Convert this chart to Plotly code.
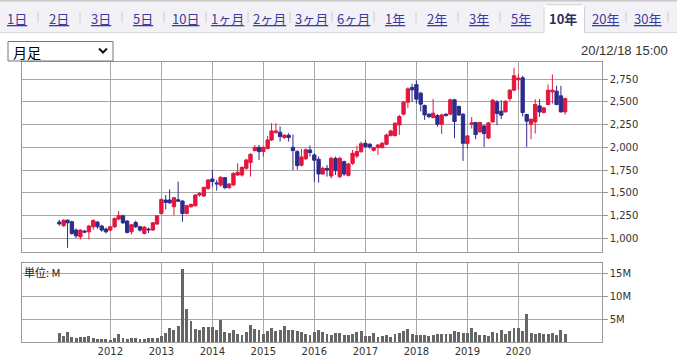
import plotly.graph_objects as go

W, H = 677, 356

# ---------------- data (monthly candles, Jan 2011 .. Dec 2020) ----------------
months = [f"{2011 + k // 12}-{k % 12 + 1:02d}-01" for k in range(120)]

opens = [1180, 1140, 1200, 1183, 1092, 1018, 1080, 1073, 1128, 1180,
         1136, 1103, 1092, 1128, 1213, 1249, 1191, 1073, 1176, 1128,
         1055, 1103, 1092, 1158, 1275, 1422, 1422, 1348, 1425, 1411,
         1275, 1348, 1359, 1477, 1466, 1550, 1653, 1610, 1587, 1668,
         1558, 1587, 1697, 1697, 1770, 1833, 1965, 2001, 1954, 1987,
         2082, 2163, 2167, 2108, 2134, 2001, 1954, 1805, 1875, 1972,
         1917, 1869, 1708, 1770, 1686, 1880, 1679, 1844, 1693, 1825,
         1906, 1954, 2045, 2035, 1968, 1998, 1998, 2035, 2130, 2130,
         2247, 2365, 2497, 2658, 2690, 2596, 2460, 2365, 2328, 2350,
         2255, 2365, 2365, 2523, 2449, 2365, 2042, 2255, 2273, 2170,
         2236, 2104, 2280, 2500, 2398, 2390, 2537, 2629, 2743, 2765,
         2361, 2255, 2280, 2456, 2383, 2471, 2610, 2618, 2566, 2390]
highs = [1205, 1210, 1210, 1195, 1110, 1100, 1095, 1150, 1210, 1190,
         1150, 1120, 1140, 1230, 1301, 1260, 1200, 1160, 1195, 1140,
         1135, 1120, 1180, 1255, 1440, 1477, 1539, 1455, 1624, 1420,
         1370, 1385, 1485, 1510, 1570, 1650, 1752, 1642, 1685, 1675,
         1610, 1725, 1825, 1790, 1875, 1935, 2027, 2027, 2010, 2126,
         2266, 2266, 2229, 2145, 2156, 2140, 1970, 1985, 1990, 2020,
         1936, 1899, 1790, 1807, 1899, 1899, 1899, 1855, 1830, 1972,
         2016, 2064, 2082, 2045, 2005, 2035, 2060, 2150, 2195, 2275,
         2357, 2510, 2660, 2699, 2735, 2610, 2470, 2375, 2534, 2365,
         2370, 2375, 2534, 2534, 2460, 2375, 2135, 2335, 2280, 2280,
         2245, 2280, 2530, 2519, 2519, 2515, 2640, 2875, 2809, 2787,
         2370, 2315, 2530, 2530, 2445, 2690, 2801, 2677, 2677, 2545]
lows = [1140, 1128, 897, 1040, 1005, 989, 1060, 990, 1095, 1105,
        1075, 1055, 1080, 1115, 1200, 1160, 1055, 1045, 1115, 1075,
        1045, 1060, 1085, 1150, 1260, 1319, 1380, 1257, 1404, 1183,
        1265, 1340, 1350, 1460, 1455, 1530, 1569, 1525, 1570, 1540,
        1545, 1575, 1690, 1680, 1755, 1679, 1955, 1862, 1899, 1980,
        2070, 2150, 2064, 2095, 2064, 1750, 1755, 1790, 1860, 1900,
        1624, 1613, 1700, 1679, 1660, 1697, 1660, 1686, 1680, 1807,
        1880, 1940, 1995, 1985, 1955, 1917, 1990, 2025, 2120, 2120,
        2137, 2350, 2431, 2500, 2480, 2394, 2302, 2320, 2318, 2229,
        2148, 2340, 2355, 2101, 2345, 1851, 1990, 2207, 2090, 2163,
        2005, 2090, 2273, 2244, 2310, 2383, 2508, 2618, 2633, 2340,
        2005, 2090, 2152, 2335, 2375, 2463, 2482, 2463, 2383, 2361]
closes = [1160, 1200, 1172, 1055, 1029, 1092, 1070, 1136, 1198, 1128,
          1092, 1073, 1128, 1220, 1253, 1172, 1066, 1150, 1128, 1092,
          1125, 1095, 1172, 1249, 1429, 1396, 1392, 1447, 1410, 1275,
          1359, 1374, 1477, 1495, 1561, 1642, 1624, 1600, 1671, 1558,
          1598, 1715, 1726, 1781, 1862, 1924, 2001, 1954, 2001, 2082,
          2181, 2181, 2119, 2134, 2108, 1965, 1800, 1895, 1975, 1943,
          1860, 1708, 1770, 1752, 1880, 1745, 1880, 1708, 1818, 1935,
          1954, 2040, 2009, 2005, 1998, 2027, 2045, 2137, 2181, 2266,
          2339, 2497, 2643, 2632, 2530, 2475, 2357, 2339, 2376, 2255,
          2357, 2350, 2523, 2284, 2357, 2045, 2126, 2270, 2141, 2273,
          2152, 2269, 2519, 2372, 2354, 2508, 2629, 2787, 2761, 2383,
          2288, 2310, 2471, 2390, 2434, 2629, 2629, 2471, 2390, 2537]

volume_m = [2.0, 1.3, 2.2, 1.1, 0.9, 1.1, 1.1, 1.3, 0.8, 0.7,
            0.7, 0.7, 0.45, 0.9, 1.8, 0.9, 0.7, 0.9, 0.9, 0.75,
            0.75, 0.9, 0.9, 0.9, 1.3, 2.0, 3.1, 2.7, 3.6, 16.1,
            7.3, 4.7, 2.9, 2.7, 3.3, 3.3, 3.3, 2.7, 4.9, 2.2,
            2.0, 2.7, 1.8, 1.5, 2.2, 3.75, 2.9, 2.7, 1.8, 2.4,
            3.1, 2.5, 2.7, 3.6, 2.6, 2.7, 2.5, 2.2, 1.8, 1.6,
            2.2, 2.7, 2.2, 1.8, 1.5, 2.0, 2.0, 1.6, 1.5, 1.8,
            2.2, 2.5, 1.25, 1.25, 2.0, 1.1, 1.25, 1.5, 1.1, 1.8,
            2.0, 2.5, 2.9, 1.8, 1.6, 1.6, 1.5, 1.25, 1.6, 1.8,
            1.8, 1.8, 1.8, 2.5, 2.2, 2.0, 2.0, 3.1, 2.2, 1.5,
            1.5, 1.25, 2.2, 2.0, 2.7, 1.8, 2.5, 3.1, 3.1, 2.5,
            6.2, 1.9, 1.8, 1.9, 1.8, 1.8, 2.0, 1.5, 2.6, 1.8]

price_ticks = [1000, 1250, 1500, 1750, 2000, 2250, 2500, 2750]
price_tick_labels = ["1,000", "1,250", "1,500", "1,750", "2,000", "2,250", "2,500", "2,750"]
vol_ticks = [5, 10, 15]
vol_tick_labels = ["5M", "10M", "15M"]
year_ticks = [f"{y}-01-01" for y in range(2012, 2021)]
year_labels = [str(y) for y in range(2012, 2021)]

tab_labels = ["1日", "2日", "3日", "5日", "10日", "1ヶ月", "2ヶ月", "3ヶ月", "6ヶ月",
              "1年", "2年", "3年", "5年", "10年", "20年", "30年"]
selected_tab = "10年"
timestamp = "20/12/18 15:00"
period_label = "月足"
unit_label = "単位: M"

# ---------------- helpers ----------------
def px(x):
    return x / W

def py(y):
    return 1 - y / H

INC = "#e2163f"
DEC = "#2c2c8c"
GRID = "#a6a6a6"
FRAME = "#999999"
TICKFONT = dict(family="DejaVu Sans, Verdana, sans-serif", size=10, color="#333333")

fig = go.Figure()
fig.add_trace(go.Candlestick(
    x=months, open=opens, high=highs, low=lows, close=closes,
    increasing=dict(line=dict(color=INC, width=1), fillcolor=INC),
    decreasing=dict(line=dict(color=DEC, width=1), fillcolor=DEC),
    whiskerwidth=0, xaxis="x", yaxis="y", hoverinfo="skip", showlegend=False,
))
fig.add_trace(go.Bar(
    x=months, y=volume_m, marker=dict(color="#666666", line=dict(width=0)),
    width=21 * 86400000, xaxis="x2", yaxis="y2", hoverinfo="skip", showlegend=False,
))

x_left, x_right = 22.3, 601.7
xrange = ["2010-04-11", "2021-08-20"]
common_x = dict(type="date", range=xrange, domain=[px(x_left), px(x_right)],
                showgrid=True, gridcolor=GRID, gridwidth=1,
                tickvals=year_ticks, ticktext=year_labels,
                showline=True, mirror=True, linecolor=FRAME, linewidth=1,
                zeroline=False, fixedrange=True)

fig.update_layout(
    width=W, height=H,
    margin=dict(l=0, r=0, t=0, b=0),
    paper_bgcolor="white", plot_bgcolor="white",
    hovermode=False, showlegend=False,
    boxgap=0.15, boxgroupgap=0.0,
    bargap=0,
    xaxis=dict(common_x, anchor="y", showticklabels=False, ticks="",
               rangeslider=dict(visible=False)),
    yaxis=dict(domain=[py(252.3), py(62)], range=[848, 2938], side="right",
               anchor="x", tickvals=price_ticks, ticktext=price_tick_labels,
               showgrid=True, gridcolor=GRID, gridwidth=1,
               ticks="outside", ticklen=5, tickcolor=FRAME,
               showline=True, mirror=True, linecolor=FRAME, linewidth=1,
               zeroline=False, tickfont=TICKFONT, fixedrange=True),
    xaxis2=dict(common_x, anchor="y2", showticklabels=True, ticks="",
                tickfont=TICKFONT),
    yaxis2=dict(domain=[py(342), py(262.7)], range=[0, 17.4], side="right",
                anchor="x2", tickvals=vol_ticks, ticktext=vol_tick_labels,
                showgrid=True, gridcolor=GRID, gridwidth=1,
                ticks="outside", ticklen=5, tickcolor=FRAME,
                showline=True, mirror=True, linecolor=FRAME, linewidth=1,
                zeroline=False, tickfont=TICKFONT, fixedrange=True),
)

# ---------------- page chrome: tab bar, dropdown, timestamp ----------------
shapes = []
shapes.append(dict(type="rect", xref="paper", yref="paper",
                   x0=0, x1=1, y0=py(32.5), y1=1,
                   fillcolor="#f1f1f6", line=dict(width=0), layer="below"))
shapes.append(dict(type="line", xref="paper", yref="paper",
                   x0=0, x1=1, y0=py(0.8), y1=py(0.8),
                   line=dict(color="#c8c8c8", width=1.5)))
tab_x0, tab_x1 = 544, 584.5
shapes.append(dict(type="line", xref="paper", yref="paper",
                   x0=0, x1=px(tab_x0), y0=py(32.5), y1=py(32.5),
                   line=dict(color="#d8d8de", width=1)))
shapes.append(dict(type="line", xref="paper", yref="paper",
                   x0=px(tab_x1), x1=1, y0=py(32.5), y1=py(32.5),
                   line=dict(color="#d8d8de", width=1)))
tab_path = (f"M {px(tab_x0)},{py(33)} L {px(tab_x0)},{py(7)} "
            f"Q {px(tab_x0)},{py(4.7)} {px(tab_x0 + 2.5)},{py(4.7)} "
            f"L {px(tab_x1 - 2.5)},{py(4.7)} Q {px(tab_x1)},{py(4.7)} {px(tab_x1)},{py(7)} "
            f"L {px(tab_x1)},{py(33)} Z")
shapes.append(dict(type="path", xref="paper", yref="paper", path=tab_path,
                   fillcolor="white", line=dict(width=0)))
for xe in (tab_x0, tab_x1):
    shapes.append(dict(type="line", xref="paper", yref="paper",
                       x0=px(xe), x1=px(xe), y0=py(33), y1=py(7),
                       line=dict(color="#cfcfd6", width=1)))
shapes.append(dict(type="line", xref="paper", yref="paper",
                   x0=px(tab_x0 + 2.5), x1=px(tab_x1 - 2.5), y0=py(4.7), y1=py(4.7),
                   line=dict(color="#cfcfd6", width=1)))

tab_step = 42.0
tab_centers = [17 + tab_step * k for k in range(len(tab_labels))]
for k in range(len(tab_labels) - 1):
    xs = (tab_centers[k] + tab_centers[k + 1]) / 2
    if tab_labels[k] == selected_tab or tab_labels[k + 1] == selected_tab:
        continue
    shapes.append(dict(type="line", xref="paper", yref="paper",
                       x0=px(xs), x1=px(xs), y0=py(12), y1=py(23),
                       line=dict(color="#cccccc", width=1)))
xs_last = tab_centers[-1] + tab_step / 2
shapes.append(dict(type="line", xref="paper", yref="paper",
                   x0=px(xs_last), x1=px(xs_last), y0=py(12), y1=py(23),
                   line=dict(color="#cccccc", width=1)))

# dropdown box
shapes.append(dict(type="rect", xref="paper", yref="paper",
                   x0=px(8), x1=px(113), y0=py(61), y1=py(41.5),
                   fillcolor="white", line=dict(color="#767676", width=1)))
chev = (f"M {px(99)},{py(48.5)} L {px(103)},{py(52.5)} L {px(107)},{py(48.5)}")
shapes.append(dict(type="path", xref="paper", yref="paper", path=chev,
                   line=dict(color="#111111", width=2)))

annotations = []
for lab, xc in zip(tab_labels, tab_centers):
    if lab == selected_tab:
        txt = f"<b>{lab}</b>"
        col = "#2e2e5c"
    else:
        txt = f"<span style='text-decoration:underline'>{lab}</span>"
        col = "#3c3ca0"
    annotations.append(dict(xref="paper", yref="paper", x=px(xc), y=py(18.5),
                            text=txt, showarrow=False, xanchor="center", yanchor="middle",
                            font=dict(family="Noto Sans CJK JP, sans-serif", size=13, color=col)))
annotations.append(dict(xref="paper", yref="paper", x=px(11), y=py(51.5), text=period_label,
                        showarrow=False, xanchor="left", yanchor="middle",
                        font=dict(family="Noto Sans CJK JP, sans-serif", size=14, color="#000000")))
annotations.append(dict(xref="paper", yref="paper", x=px(670), y=py(50), text=timestamp,
                        showarrow=False, xanchor="right", yanchor="middle",
                        font=dict(family="Liberation Sans, Arial, sans-serif", size=13, color="#333333")))
annotations.append(dict(xref="paper", yref="paper", x=px(22), y=py(271.5), text=unit_label,
                        showarrow=False, xanchor="left", yanchor="middle",
                        font=dict(family="Noto Sans CJK JP, sans-serif", size=11, color="#222222")))

fig.update_layout(shapes=shapes, annotations=annotations)
fig.write_html(
    "out.html",
    config={"displayModeBar": False, "staticPlot": True},
    post_script="document.body.style.margin='0';document.body.style.padding='0';"
                "document.body.style.overflow='hidden';",
)
